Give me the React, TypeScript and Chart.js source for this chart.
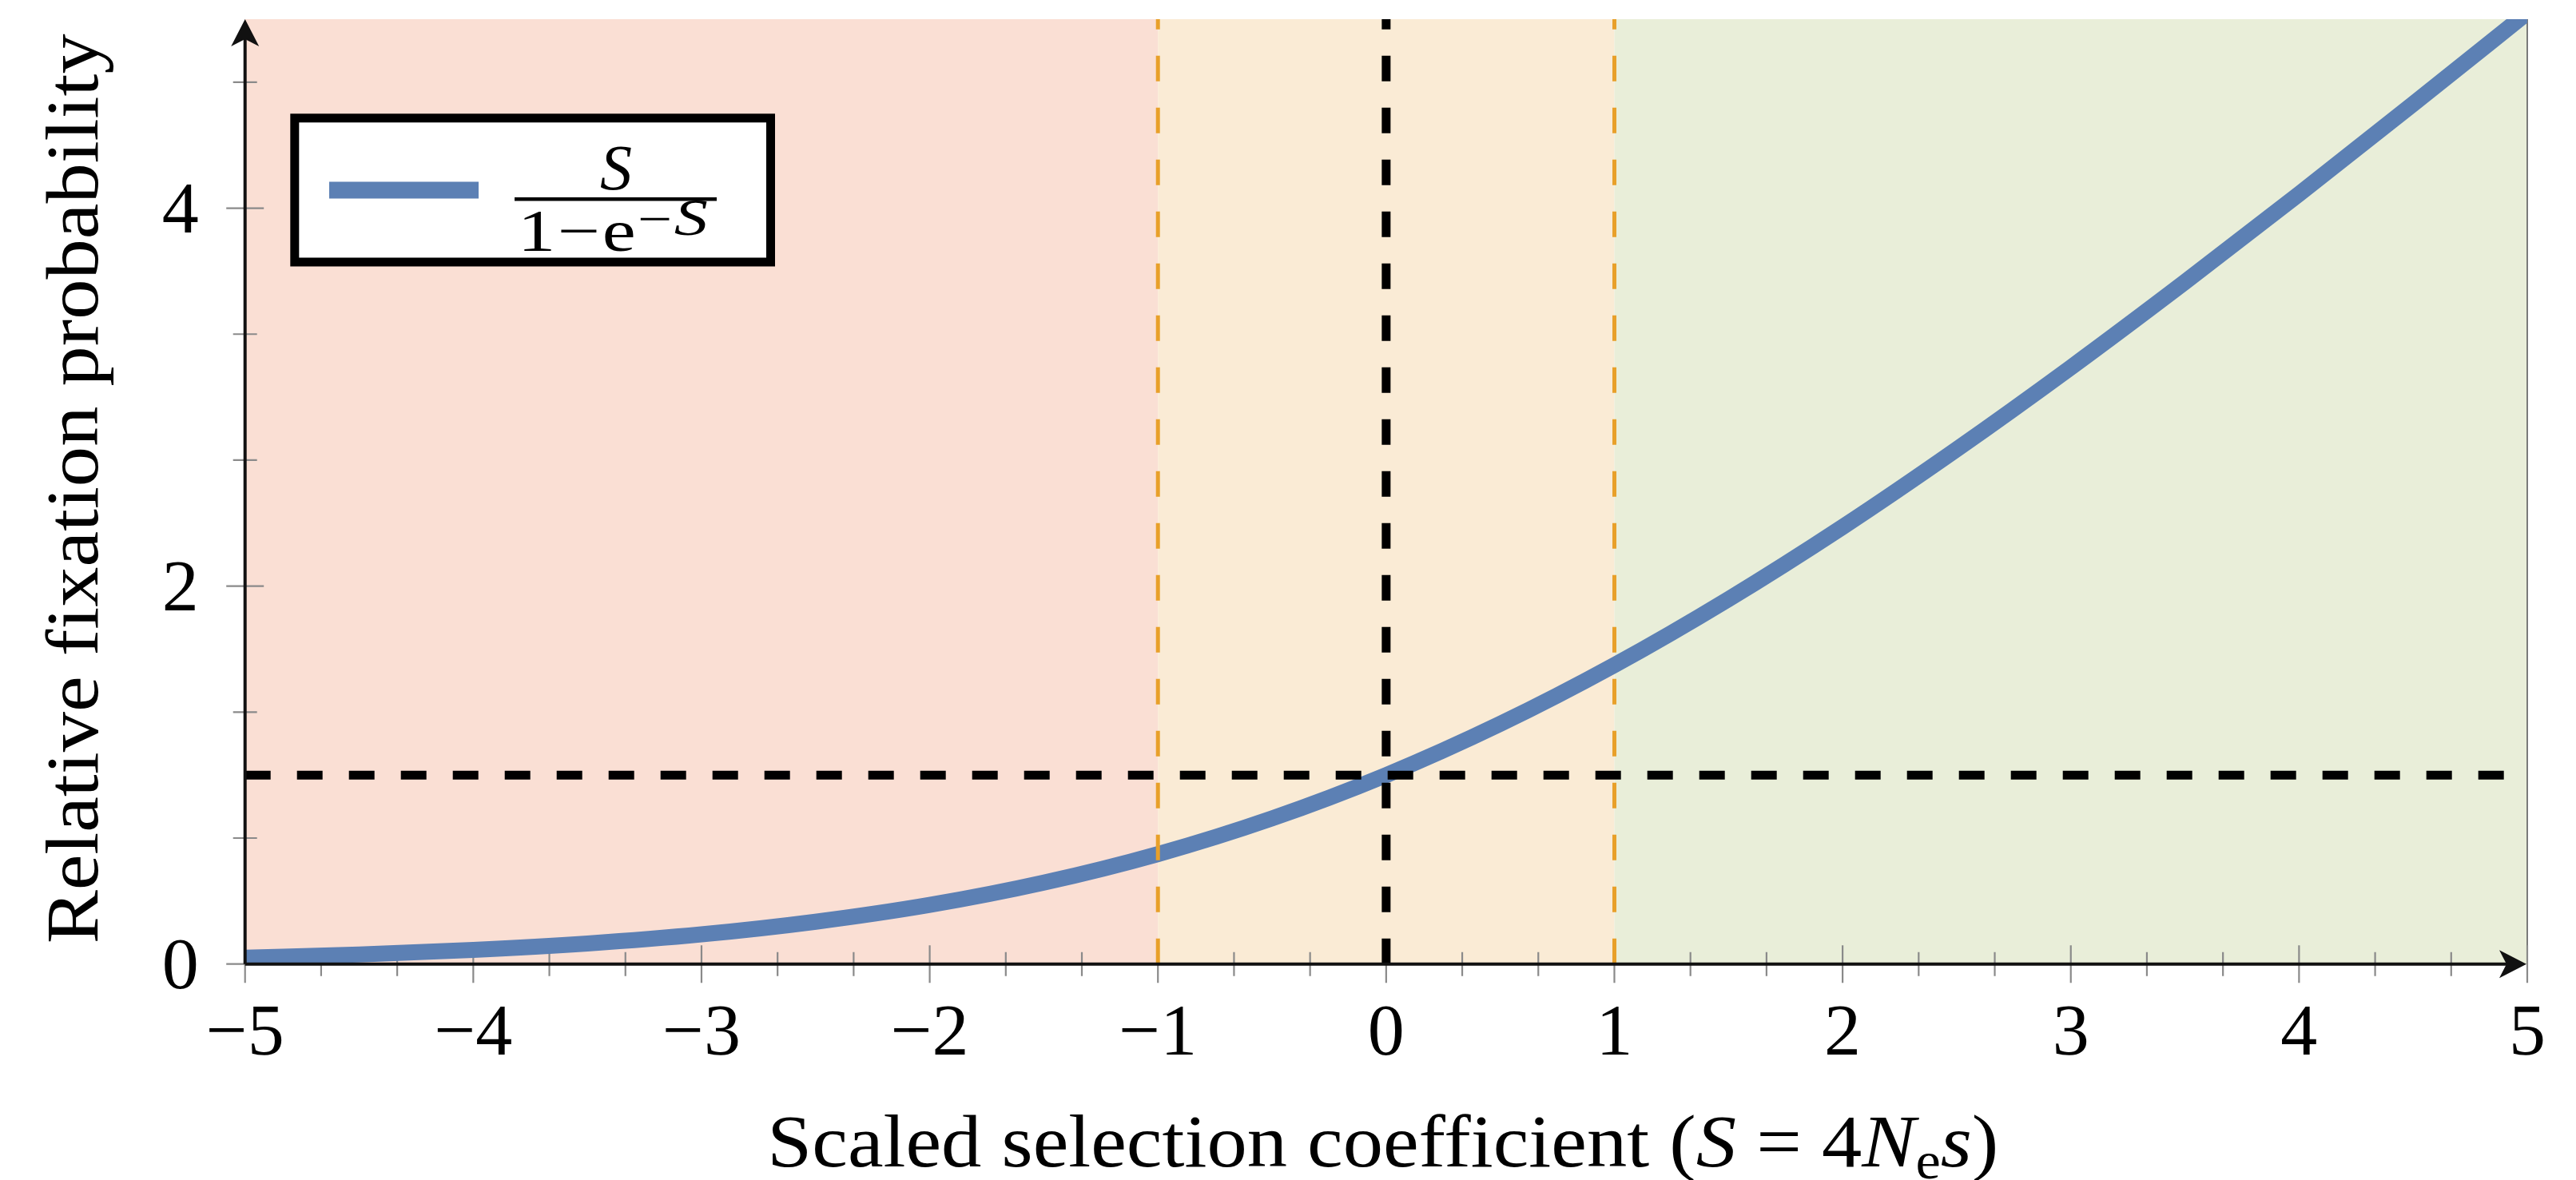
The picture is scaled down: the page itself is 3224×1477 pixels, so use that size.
import React, { useEffect, useRef } from 'react';
import { Chart, registerables } from 'chart.js';

Chart.register(...registerables);

// ---- data ----
const sValues = [-5, -4.5, -4, -3.5, -3, -2.5, -2, -1.5, -1, -0.5, 0, 0.5, 1, 1.5, 2, 2.5, 3, 3.5, 4, 4.5, 5];
const fixationValues = [0.034, 0.051, 0.075, 0.109, 0.157, 0.224, 0.313, 0.431, 0.582, 0.771, 1.0, 1.271, 1.582, 1.931, 2.313, 2.724, 3.157, 3.609, 4.075, 4.551, 5.034];

const xTickValues = [-5, -4, -3, -2, -1, 0, 1, 2, 3, 4, 5];
const xTickLabels = ['−5', '−4', '−3', '−2', '−1', '0', '1', '2', '3', '4', '5'];
const yTickValues = [0, 2, 4];
const yTickLabels = ['0', '2', '4'];

const bandEdges = [-5, -1, 1, 5];
const bandColors = ['#fadfd4', '#faebd5', '#e9eed9'];

const neutralLevel = 1;
const neutralS = 0;
const weakBounds = [-1, 1];

const xMin = -5;
const xMax = 5;
const yMin = 0;
const yMax = 5;

const xTitleRuns = [
  { text: 'Scaled selection coefficient (', italic: false, size: 94, dy: 0 },
  { text: 'S', italic: true, size: 94, dy: 0 },
  { text: ' = ', italic: false, size: 94, dy: 0 },
  { text: '4', italic: false, size: 94, dy: 0 },
  { text: 'N', italic: true, size: 94, dy: 0 },
  { text: 'e', italic: false, size: 66, dy: 15 },
  { text: 's', italic: true, size: 94, dy: 0 },
  { text: ')', italic: false, size: 94, dy: 0 },
];
const yTitle = 'Relative fixation probability';
const legendNumerator = 'S';
const legendDenominatorRuns = [
  { text: '1', italic: false, size: 74, dy: 0 },
  { text: '−', italic: false, size: 74, dy: 0 },
  { text: 'e', italic: false, size: 74, dy: 0 },
  { text: '−', italic: false, size: 60, dy: -20 },
  { text: 'S', italic: true, size: 66, dy: -20 },
];

const FONT = "'Liberation Serif', 'Times New Roman', serif";
const CURVE_COLOR = '#5c80b4';

type Run = { text: string; italic: boolean; size: number; dy: number };

function fontOf(r: Run) {
  return `${r.italic ? 'italic ' : ''}${r.size}px ${FONT}`;
}

function drawRuns(ctx: CanvasRenderingContext2D, runs: Run[], left: number, baseline: number, targetWidth: number, gap = 0) {
  const widths = runs.map((r) => {
    ctx.font = fontOf(r);
    return ctx.measureText(r.text).width;
  });
  const total = widths.reduce((a, b) => a + b, 0) + gap * (runs.length - 1);
  const f = targetWidth / total;
  ctx.save();
  ctx.translate(left, baseline);
  ctx.scale(f, 1);
  ctx.textAlign = 'left';
  ctx.textBaseline = 'alphabetic';
  ctx.fillStyle = '#000';
  let x = 0;
  runs.forEach((r, i) => {
    ctx.font = fontOf(r);
    ctx.fillText(r.text, x, r.dy);
    x += widths[i] + gap;
  });
  ctx.restore();
}

const decorPlugin = {
  id: 'decor',
  beforeDatasetsDraw(chart: any) {
    const { ctx, chartArea: a, scales } = chart;
    const x = scales.x;
    const y = scales.y;
    ctx.save();
    // background bands
    for (let i = 0; i < bandColors.length; i++) {
      const x0 = x.getPixelForValue(bandEdges[i]);
      const x1 = x.getPixelForValue(bandEdges[i + 1]);
      ctx.fillStyle = bandColors[i];
      ctx.fillRect(x0, a.top, x1 - x0, a.bottom - a.top);
    }
    // right frame line
    ctx.strokeStyle = '#7a7a7a';
    ctx.lineWidth = 2;
    ctx.beginPath();
    ctx.moveTo(a.right, a.top);
    ctx.lineTo(a.right, a.bottom);
    ctx.stroke();
    // ticks
    const y0 = y.getPixelForValue(0);
    const x0 = x.getPixelForValue(xMin);
    ctx.strokeStyle = '#8a8a8a';
    ctx.lineWidth = 2.2;
    ctx.beginPath();
    const nx = (xMax - xMin) * 3;
    for (let i = 0; i <= nx; i++) {
      const v = xMin + i / 3;
      const px = x.getPixelForValue(v);
      const len = i % 3 === 0 ? 23.5 : 15;
      ctx.moveTo(px, y0 - len);
      ctx.lineTo(px, y0 + len);
    }
    for (let i = 0; i * (2 / 3) <= yMax + 1e-9; i++) {
      const v = (i * 2) / 3;
      const py = y.getPixelForValue(v);
      const len = i % 3 === 0 ? 23.5 : 15;
      ctx.moveTo(x0 - len, py);
      ctx.lineTo(x0 + len, py);
    }
    ctx.stroke();
    ctx.restore();
  },
  afterDatasetsDraw(chart: any) {
    const { ctx, chartArea: a, scales } = chart;
    const x = scales.x;
    const y = scales.y;
    const ax = x.getPixelForValue(xMin);
    const ay = y.getPixelForValue(0);
    ctx.save();
    // axes
    ctx.strokeStyle = '#111';
    ctx.fillStyle = '#111';
    ctx.lineWidth = 4;
    ctx.beginPath();
    ctx.moveTo(ax, ay);
    ctx.lineTo(ax, a.top + 20);
    ctx.moveTo(ax, ay);
    ctx.lineTo(a.right - 20, ay);
    ctx.stroke();
    // y arrow
    ctx.beginPath();
    ctx.moveTo(ax, a.top);
    ctx.lineTo(ax - 17.5, a.top + 34);
    ctx.lineTo(ax, a.top + 25);
    ctx.lineTo(ax + 17.5, a.top + 34);
    ctx.closePath();
    ctx.fill();
    // x arrow
    const tip = a.right - 1;
    ctx.beginPath();
    ctx.moveTo(tip, ay);
    ctx.lineTo(tip - 34, ay - 17.5);
    ctx.lineTo(tip - 25, ay);
    ctx.lineTo(tip - 34, ay + 17.5);
    ctx.closePath();
    ctx.fill();

    // tick labels
    ctx.fillStyle = '#000';
    ctx.font = `92px ${FONT}`;
    ctx.textBaseline = 'alphabetic';
    ctx.textAlign = 'center';
    xTickValues.forEach((v, i) => {
      ctx.fillText(xTickLabels[i], x.getPixelForValue(v), ay + 113);
    });
    ctx.textAlign = 'right';
    yTickValues.forEach((v, i) => {
      ctx.fillText(yTickLabels[i], ax - 58, y.getPixelForValue(v) + 30);
    });

    // x title
    const cx = (a.left + a.right) / 2 - 4;
    drawRuns(ctx, xTitleRuns, cx - 770.5, 1460, 1541);

    // y title
    ctx.save();
    ctx.translate(122, (a.top + a.bottom) / 2 - 3.5);
    ctx.rotate(-Math.PI / 2);
    drawRuns(ctx, [{ text: yTitle, italic: false, size: 94, dy: 0 }], -569.5, 0, 1139);
    ctx.restore();

    // legend
    ctx.fillStyle = '#fff';
    ctx.fillRect(369, 148, 595, 180);
    ctx.strokeStyle = '#000';
    ctx.lineWidth = 11;
    ctx.strokeRect(368.8, 147.8, 595.7, 180.2);
    ctx.strokeStyle = CURVE_COLOR;
    ctx.lineWidth = 21;
    ctx.lineCap = 'butt';
    ctx.beginPath();
    ctx.moveTo(412, 238);
    ctx.lineTo(599, 238);
    ctx.stroke();
    // fraction
    ctx.fillStyle = '#000';
    ctx.font = `italic 80px ${FONT}`;
    ctx.textAlign = 'center';
    ctx.fillText(legendNumerator, 771, 237);
    ctx.fillRect(644, 247, 253, 4.5);
    drawRuns(ctx, legendDenominatorRuns, 648, 314, 238, 2);
    ctx.restore();
  },
};

export default function App() {
  const canvasRef = useRef<HTMLCanvasElement | null>(null);

  useEffect(() => {
    document.body.style.margin = '0';
    const canvas = canvasRef.current;
    if (!canvas) return;
    const curve = sValues.map((s, i) => ({ x: s, y: fixationValues[i] }));
    const dashedBlack = { borderColor: '#000', borderWidth: 11, borderDash: [32, 33], pointRadius: 0, fill: false, tension: 0, clip: 0 };
    const dashedOrange = { borderColor: '#e8a02a', borderWidth: 5, borderDash: [32, 33], pointRadius: 0, fill: false, tension: 0, clip: 0 };
    const chart = new Chart(canvas, {
      type: 'line',
      data: {
        datasets: [
          {
            label: 'S/(1−e^−S)',
            data: curve,
            borderColor: CURVE_COLOR,
            borderWidth: 20,
            pointRadius: 0,
            fill: false,
            cubicInterpolationMode: 'monotone',
            clip: 0,
            order: 3,
          } as any,
          { label: 'neutral level', data: [{ x: xMin, y: neutralLevel }, { x: xMax, y: neutralLevel }], order: 1, ...dashedBlack } as any,
          { label: 'neutral S', data: [{ x: neutralS, y: yMin }, { x: neutralS, y: yMax }], order: 1, ...dashedBlack } as any,
          { label: 'weak lower', data: [{ x: weakBounds[0], y: yMin }, { x: weakBounds[0], y: yMax }], order: 2, ...dashedOrange } as any,
          { label: 'weak upper', data: [{ x: weakBounds[1], y: yMin }, { x: weakBounds[1], y: yMax }], order: 2, ...dashedOrange } as any,
        ],
      },
      options: {
        responsive: false,
        animation: false,
        events: [],
        layout: { padding: { top: 24, right: 61, left: 0, bottom: 0 } },
        plugins: { legend: { display: false }, tooltip: { enabled: false }, title: { display: false } },
        scales: {
          x: {
            type: 'linear',
            min: xMin,
            max: xMax,
            ticks: { display: false, stepSize: 1 },
            grid: { display: false, drawTicks: false },
            border: { display: false },
            afterFit: (s: any) => {
              s.height = 270.3;
            },
          },
          y: {
            type: 'linear',
            min: yMin,
            max: yMax,
            ticks: { display: false, stepSize: 2, includeBounds: false },
            grid: { display: false, drawTicks: false },
            border: { display: false },
            afterFit: (s: any) => {
              s.width = 306.7;
            },
          },
        },
      } as any,
      plugins: [decorPlugin],
    });
    return () => chart.destroy();
  }, []);

  return (
    <div style={{ width: 3224, height: 1477, background: '#fff' }}>
      <canvas ref={canvasRef} width={3224} height={1477} style={{ display: 'block' }} />
    </div>
  );
}
